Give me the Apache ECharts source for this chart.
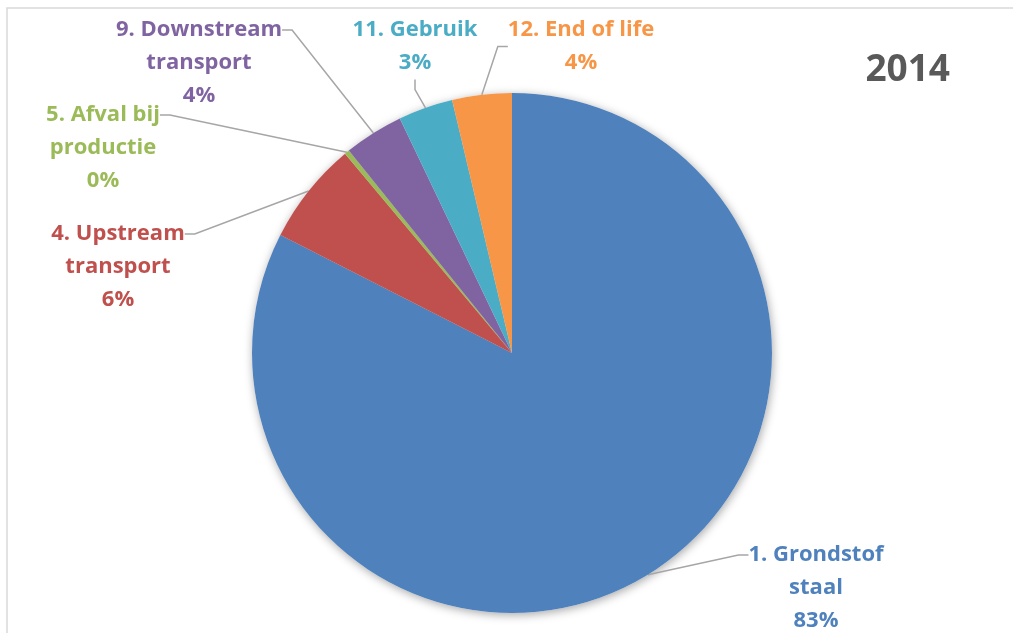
<!DOCTYPE html>
<html>
<head>
<meta charset="utf-8">
<script src="https://cdn.jsdelivr.net/npm/echarts@6/dist/echarts.min.js"></script>
<style>
    html, body { margin: 0; padding: 0; background: #fff; }
    #chart { width: 1013px; height: 633px; }
</style>
</head>
<body>
<div id="chart"></div>
<script>
let categories = ['1. Grondstof\nstaal', '4. Upstream\ntransport', '5. Afval bij\nproductie', '9. Downstream\ntransport', '11. Gebruik', '12. End of life']
let values = [82.5, 6.4, 0.3, 3.7, 3.4, 3.7]
let colors = ['#4F81BD', '#C0504D', '#9BBB59', '#8064A2', '#4BACC6', '#F79646']
let title = '2014'

// centre of each label's first text line, in px
let labelPos = [[816, 555], [118, 234], [103, 115], [199, 30], [415, 30], [581, 30]]

const lineH = 33

function labelLines(p) {
    return (p.name + '\n' + Math.round(p.percent) + '%').split('\n')
}

// 3-line labels: leader line goes to the first line only, rest drawn by a second series
function headText(p) {
    let l = labelLines(p)
    return l.length > 2 ? l[0] : l.join('\n')
}
function tailText(p) {
    let l = labelLines(p)
    return l.length > 2 ? l.slice(1).join('\n') : ''
}

function drawChart(id) {
    let dom = document.getElementById(id)
    let myChart = echarts.init(dom, null, { renderer: 'canvas' })

    let pieData = []
    let ghostData = []
    for (let i = 0; i < categories.length; i++) {
        pieData.push({
            name: categories[i],
            value: values[i],
            itemStyle: { color: colors[i] },
            label: { color: colors[i] }
        })
        ghostData.push({
            name: categories[i],
            value: values[i],
            label: { color: colors[i] }
        })
    }

    let labelFont = {
        show: true,
        fontFamily: 'Open Sans',
        fontWeight: 'bold',
        fontSize: 22,
        lineHeight: lineH,
        align: 'center'
    }

    let option = {
        animation: false,
        graphic: [
            {
                type: 'rect',
                shape: { x: 7, y: 8, width: 1100, height: 700 },
                style: { fill: 'none', stroke: '#d9d9d9', lineWidth: 1.5 },
                z: -1
            }
        ],
        title: {
            text: title,
            right: 58,
            top: 47,
            textStyle: {
                fontFamily: 'Open Sans',
                fontWeight: 'bold',
                fontSize: 37,
                color: '#595959'
            }
        },
        series: [
            {
                // soft shadow + tail lines of the labels
                type: 'pie',
                silent: true,
                center: [512, 353],
                radius: 260,
                startAngle: 90,
                clockwise: true,
                minShowLabelAngle: 0,
                avoidLabelOverlap: false,
                itemStyle: {
                    color: '#fff',
                    shadowBlur: 10,
                    shadowColor: 'rgba(0,0,0,0.35)',
                    shadowOffsetX: 1,
                    shadowOffsetY: 2
                },
                label: Object.assign({}, labelFont, { formatter: tailText }),
                labelLine: { show: false },
                labelLayout: function (params) {
                    let pos = labelPos[params.dataIndex]
                    return { x: pos[0], y: pos[1] + lineH / 2, align: 'center', verticalAlign: 'top' }
                },
                data: ghostData,
                z: 1
            },
            {
                type: 'pie',
                center: [512, 353],
                radius: 260,
                startAngle: 90,
                clockwise: true,
                minShowLabelAngle: 0,
                avoidLabelOverlap: false,
                itemStyle: { borderWidth: 0 },
                label: Object.assign({}, labelFont, { formatter: headText }),
                labelLine: {
                    show: true,
                    length: 20,
                    length2: 10,
                    lineStyle: { color: '#a6a6a6', width: 1.5 }
                },
                labelLayout: function (params) {
                    let pos = labelPos[params.dataIndex]
                    return { x: pos[0], y: pos[1] - lineH / 2, align: 'center', verticalAlign: 'top' }
                },
                data: pieData,
                z: 2
            }
        ]
    }
    myChart.setOption(option)
}

drawChart('chart')
</script>
</body>
</html>
